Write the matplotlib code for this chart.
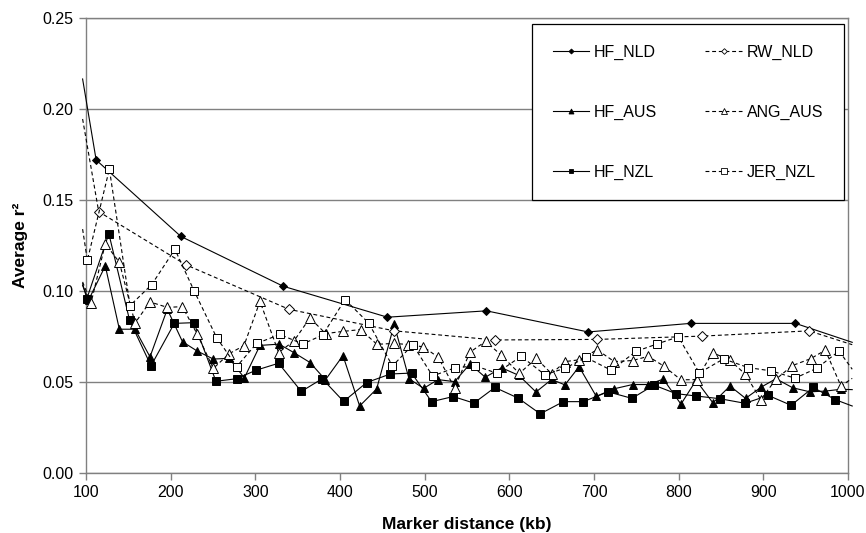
import matplotlib
matplotlib.use("Agg")
import matplotlib.pyplot as plt
from matplotlib.lines import Line2D

plt.rcParams["font.family"] = ["Liberation Sans", "DejaVu Sans"]

# values; first/last points are where the lines leave the plot
HF_NLD_X = [96, 112, 212, 333, 456, 573, 693, 814, 938, 1005]
HF_NLD_Y = [0.2165, 0.172, 0.130, 0.1026, 0.0856, 0.0891, 0.0775, 0.0822, 0.0822, 0.0718]

RW_NLD_X = [96, 115, 218, 340, 464, 583, 704, 827, 954, 1005]
RW_NLD_Y = [0.1945, 0.1436, 0.1144, 0.0899, 0.0781, 0.0731, 0.0734, 0.0752, 0.0781, 0.0705]

HF_AUS_X = [96, 103, 122.8, 139.4, 157.9, 175.6, 196, 214, 231, 250.4, 269.3, 287, 305.5,
            328, 345.7, 364.6, 382.8, 403.5, 423.2, 443.3, 464, 481.5, 498.8, 515.7, 535.4,
            553.5, 571.6, 590.9, 611.4, 631.5, 650, 665.7, 682.4, 702.7, 724, 745.6, 764.1,
            781.9, 802.7, 820.6, 840.5, 860.6, 879, 897.6, 914.9, 934.8, 955, 973.2, 991.7, 1005]
HF_AUS_Y = [0.103, 0.0950, 0.1138, 0.079, 0.079, 0.0638, 0.090, 0.0721, 0.0671, 0.0626, 0.063,
            0.0522, 0.0701, 0.0708, 0.0661, 0.0607, 0.0512, 0.0645, 0.0368, 0.0462, 0.0816,
            0.0518, 0.0465, 0.0513, 0.0502, 0.0599, 0.0526, 0.0578, 0.0536, 0.0445, 0.0514,
            0.0484, 0.0584, 0.0421, 0.0463, 0.0486, 0.0486, 0.0516, 0.0378, 0.0509, 0.0385,
            0.0478, 0.041, 0.0472, 0.0518, 0.0468, 0.0446, 0.045, 0.046, 0.0458]

ANG_AUS_X = [96, 105.9, 122.8, 139.4, 157.9, 175.6, 196, 213.8, 231, 250.4, 269.3, 286.6, 305.5,
             327.5, 345.7, 364.5, 383, 403.5, 424.4, 443.6, 464, 480, 498.4, 516.1, 535.4,
             553.5, 572, 590.1, 611.8, 631.8, 650, 665.7, 682.6, 703.7, 724, 745.6, 764.1,
             782.2, 802.7, 821.2, 840, 860.2, 878.7, 897, 914.9, 934.2, 955.9, 973.2, 991.7, 1005]
ANG_AUS_Y = [0.105, 0.0934, 0.126, 0.1158, 0.0824, 0.094, 0.091, 0.0914, 0.0766, 0.0575, 0.0656,
             0.0700, 0.0943, 0.0662, 0.0726, 0.0852, 0.0766, 0.0778, 0.0788, 0.0707, 0.0712,
             0.0706, 0.0693, 0.0636, 0.0467, 0.0664, 0.0723, 0.0649, 0.0547, 0.063, 0.0545,
             0.0612, 0.0622, 0.0677, 0.0612, 0.0618, 0.0641, 0.0588, 0.0512, 0.0513, 0.0661,
             0.0621, 0.0543, 0.0403, 0.0515, 0.059, 0.0628, 0.0675, 0.0478, 0.052]

HF_NZL_X = [96, 101, 127, 151.5, 176.8, 204.3, 227.5, 253.5, 278, 300.4, 327.5, 354.3, 379,
            404.3, 431.5, 459.5, 484.6, 508.2, 533.8, 558.2, 583, 610.6, 636.5, 663.8, 687.4,
            716.5, 744.8, 770.8, 796.8, 820.8, 848.8, 878.3, 905.9, 932.8, 959, 985, 1005]
HF_NZL_Y = [0.104, 0.0958, 0.1315, 0.0839, 0.0589, 0.0822, 0.0826, 0.0504, 0.0518, 0.0564,
            0.0603, 0.0448, 0.0518, 0.0393, 0.0497, 0.0544, 0.0549, 0.0392, 0.042, 0.0384,
            0.047, 0.0411, 0.0325, 0.0392, 0.0392, 0.0446, 0.041, 0.0483, 0.0436, 0.0423,
            0.0408, 0.0383, 0.0426, 0.0372, 0.047, 0.0403, 0.0368]

JER_NZL_X = [96, 101.6, 127.6, 152, 177.6, 205, 228, 254.3, 278, 301.6, 329, 356, 379.5, 406,
             434, 462, 486, 509.4, 535.8, 560, 585, 614, 642, 666, 690.5, 720.5, 749.5, 774.5,
             799.6, 824.4, 853, 882.2, 909.5, 937.4, 963, 989.5, 1005]
JER_NZL_Y = [0.134, 0.1168, 0.167, 0.092, 0.1035, 0.1229, 0.0998, 0.0744, 0.0585, 0.0712,
             0.0761, 0.0709, 0.0758, 0.0953, 0.0823, 0.0588, 0.0705, 0.0533, 0.0578, 0.0588,
             0.0549, 0.0641, 0.054, 0.0576, 0.0635, 0.0564, 0.0668, 0.0709, 0.0748, 0.055,
             0.0627, 0.0579, 0.0561, 0.0521, 0.0575, 0.067, 0.057]

X_TICKS = [100, 200, 300, 400, 500, 600, 700, 800, 900, 1000]
Y_TICKS = [0.00, 0.05, 0.10, 0.15, 0.20, 0.25]

GRID = "#808080"
DASH = (3.5, 2.5)

# label, x, y, marker, size, filled, dashed
SERIES = [
    ("HF_NLD", HF_NLD_X, HF_NLD_Y, "D", 4.2, True, False),
    ("HF_AUS", HF_AUS_X, HF_AUS_Y, "^", 6.0, True, False),
    ("HF_NZL", HF_NZL_X, HF_NZL_Y, "s", 5.6, True, False),
    ("RW_NLD", RW_NLD_X, RW_NLD_Y, "D", 4.8, False, True),
    ("ANG_AUS", ANG_AUS_X, ANG_AUS_Y, "^", 7.0, False, True),
    ("JER_NZL", JER_NZL_X, JER_NZL_Y, "s", 6.4, False, True),
]

fig = plt.figure(figsize=(8.66, 5.33), dpi=100)
ax = fig.add_axes([0.0993, 0.1126, 0.8799, 0.8536])

handles = []
for i, (label, xs, ys, m, ms, filled, dashed) in enumerate(SERIES):
    show = [100 <= v <= 1000 for v in xs]
    ln, = ax.plot(xs, ys, color="black", lw=0.8, marker=m, ms=ms,
                  mfc="black" if filled else "white", mec="black", mew=0.7,
                  markevery=show, clip_on=False, zorder=3 + i)
    if dashed:
        ln.set_dashes(DASH)
    h = Line2D([], [], color="black", lw=0.8, marker=m, ms=ms * 0.6,
               mfc="black" if filled else "white", mec="black", mew=0.6, label=label)
    if dashed:
        h.set_dashes(DASH)
    handles.append(h)

ax.set_xlim(100, 1000)
ax.set_ylim(0, 0.25)
ax.set_xticks(X_TICKS)
ax.set_yticks(Y_TICKS)
ax.set_yticklabels([f"{v:.2f}" for v in Y_TICKS])
ax.tick_params(direction="out", length=5, width=1, color=GRID, labelsize=11.5, pad=4)
for s in ax.spines.values():
    s.set_color(GRID)
    s.set_linewidth(1)
ax.yaxis.grid(True, color=GRID, lw=1)
ax.set_axisbelow(True)

ax.set_xlabel("Marker distance (kb)", fontsize=12.5, fontweight="bold", labelpad=12)
ax.set_ylabel("Average r²", fontsize=12.5, fontweight="bold", labelpad=10)

leg = ax.legend(handles=handles, ncol=2, loc="upper right", bbox_to_anchor=(0.995, 0.987),
                fontsize=11.5, frameon=True, fancybox=False, framealpha=1,
                edgecolor="black", borderpad=1.3, labelspacing=2.8, handlelength=2.3,
                handletextpad=0.3, columnspacing=3.0, borderaxespad=0)
leg.get_frame().set_linewidth(0.9)
leg.set_zorder(20)

fig.savefig("out.png", dpi=100, facecolor="white")
